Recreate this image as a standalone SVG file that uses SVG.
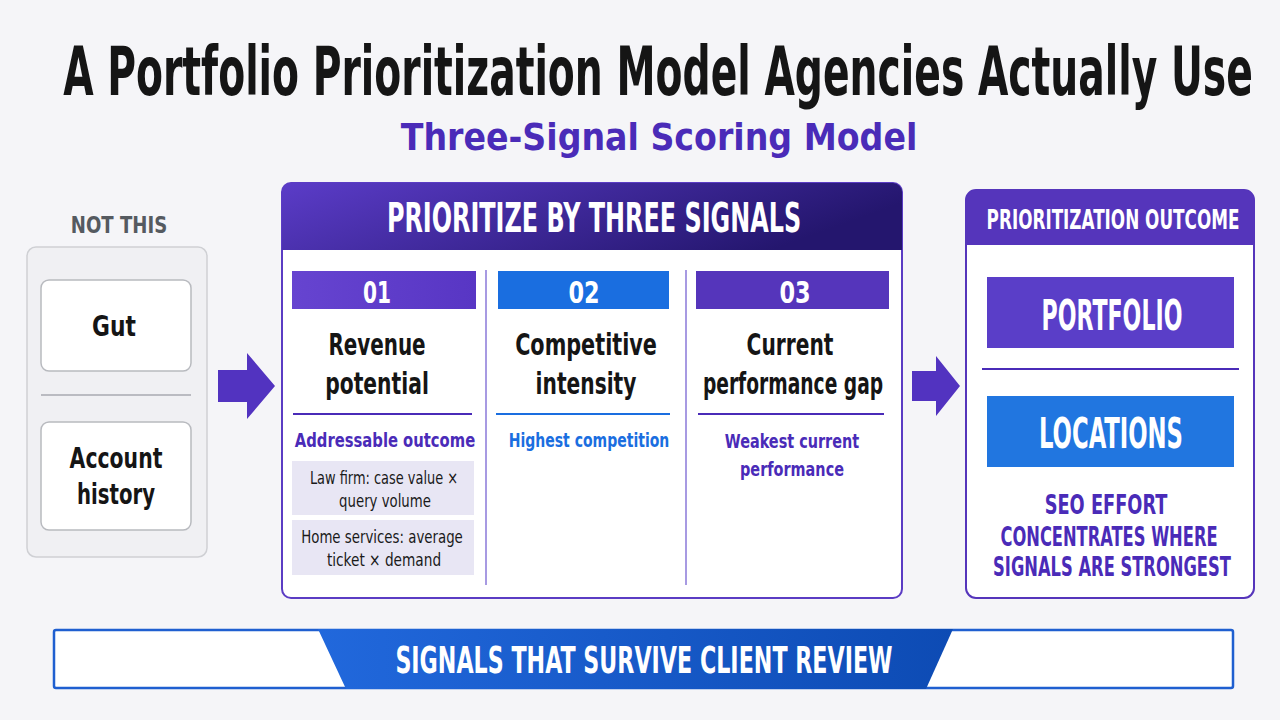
<svg xmlns="http://www.w3.org/2000/svg" width="1280" height="720" viewBox="0 0 1280 720">
<defs>
<linearGradient id="hdr" x1="0" y1="0" x2="1" y2="0.3">
<stop offset="0" stop-color="#5b3cc8"/><stop offset="1" stop-color="#24166e"/>
</linearGradient>
<linearGradient id="ban" x1="0" y1="0" x2="1" y2="0">
<stop offset="0" stop-color="#2168dc"/><stop offset="1" stop-color="#0d4bb4"/>
</linearGradient>
<linearGradient id="num1" x1="0" y1="0" x2="1" y2="0">
<stop offset="0" stop-color="#6644d0"/><stop offset="1" stop-color="#5836c4"/>
</linearGradient>
</defs>
<style>
.c{font-family:"DejaVu Sans Condensed","DejaVu Sans",sans-serif;font-stretch:condensed;font-weight:bold;text-anchor:middle}
.w{fill:#ffffff}
.k{fill:#151515}
.p{fill:#4a2bb8}
.b{fill:#1a6ee0}
.n{font-family:"DejaVu Sans Condensed","DejaVu Sans",sans-serif;font-stretch:condensed;text-anchor:middle;fill:#1a1a1a}
</style>
<rect width="1280" height="720" fill="#f5f5f8"/>
<g id="title">
<text class="c k" transform="translate(658,95) scale(0.64,1)" font-size="68" textLength="1859" lengthAdjust="spacingAndGlyphs">A Portfolio Prioritization Model Agencies Actually Use</text>
<text class="c p" transform="translate(659,150) scale(0.9,1)" font-size="38" textLength="574" lengthAdjust="spacingAndGlyphs">Three-Signal Scoring Model</text>
</g>
<g id="not-this">
<text class="c" transform="translate(119,233) scale(0.79,1)" font-size="23" fill="#555a60" textLength="122" lengthAdjust="spacingAndGlyphs">NOT THIS</text>
<rect x="27" y="247" width="180" height="310" rx="9" fill="#f0f0f3" stroke="#cfd0d4" stroke-width="1.5"/>
<line x1="41" y1="395" x2="191" y2="395" stroke="#a8aab0" stroke-width="1.5"/>
</g>
<g id="gut">
<rect x="41" y="280" width="150" height="91" rx="8" fill="#ffffff" stroke="#b8babf" stroke-width="1.5"/>
<text class="c k" transform="translate(114,336) scale(0.86,1)" font-size="28" textLength="51" lengthAdjust="spacingAndGlyphs">Gut</text>
</g>
<g id="account-history">
<rect x="41" y="422" width="150" height="108" rx="8" fill="#ffffff" stroke="#b8babf" stroke-width="1.5"/>
<text class="c k" transform="translate(116,468) scale(0.78,1)" font-size="29" textLength="119" lengthAdjust="spacingAndGlyphs">Account</text>
<text class="c k" transform="translate(116,504) scale(0.75,1)" font-size="29" textLength="104" lengthAdjust="spacingAndGlyphs">history</text>
</g>
<g id="connectors">
<polygon points="218,370 247,370 247,353 275,386 247,419 247,402 218,402" fill="#5233c0"/>
<polygon points="912,371 936,371 936,356 960,386 936,416 936,401 912,401" fill="#5233c0"/>
</g>
<g id="signals">
<rect x="282" y="183" width="620" height="415" rx="9" fill="#ffffff" stroke="#5b3cc4" stroke-width="2"/>
<path d="M282,250 V192 a9,9 0 0 1 9,-9 H893 a9,9 0 0 1 9,9 V250 Z" fill="url(#hdr)"/>
<text class="c w" transform="translate(594,232) scale(0.59,1)" font-size="40" textLength="702" lengthAdjust="spacingAndGlyphs">PRIORITIZE BY THREE SIGNALS</text>
<line x1="486" y1="270" x2="486" y2="585" stroke="#8a78d8" stroke-width="1.5"/>
<line x1="686" y1="270" x2="686" y2="585" stroke="#8a78d8" stroke-width="1.5"/>
</g>
<g id="signal-01">
<rect x="292" y="271" width="184" height="38" fill="url(#num1)"/>
<text class="c w" transform="translate(377,303) scale(0.72,1)" font-size="31" textLength="39" lengthAdjust="spacingAndGlyphs">01</text>
<text class="c k" transform="translate(377,355) scale(0.71,1)" font-size="31" textLength="137" lengthAdjust="spacingAndGlyphs">Revenue</text>
<text class="c k" transform="translate(377,394) scale(0.73,1)" font-size="31" textLength="142" lengthAdjust="spacingAndGlyphs">potential</text>
<line x1="293" y1="414" x2="472" y2="414" stroke="#4a2bb8" stroke-width="2"/>
<text class="c p" transform="translate(385,447) scale(0.82,1)" font-size="20" textLength="220" lengthAdjust="spacingAndGlyphs">Addressable outcome</text>
<rect x="292" y="461" width="182" height="54" fill="#e8e6f4"/>
<text class="n" transform="translate(384,484) scale(0.76,1)" font-size="17" textLength="195" lengthAdjust="spacingAndGlyphs">Law firm: case value ×</text>
<text class="n" transform="translate(385,507) scale(0.82,1)" font-size="17" textLength="112" lengthAdjust="spacingAndGlyphs">query volume</text>
<rect x="292" y="520" width="182" height="55" fill="#e8e6f4"/>
<text class="n" transform="translate(382,543) scale(0.8,1)" font-size="17" textLength="202" lengthAdjust="spacingAndGlyphs">Home services: average</text>
<text class="n" transform="translate(384,566) scale(0.84,1)" font-size="17" textLength="136" lengthAdjust="spacingAndGlyphs">ticket × demand</text>
</g>
<g id="signal-02">
<rect x="498" y="271" width="171" height="38" fill="#1a6ee0"/>
<text class="c w" transform="translate(584,303) scale(0.8,1)" font-size="31" textLength="39" lengthAdjust="spacingAndGlyphs">02</text>
<text class="c k" transform="translate(586,355) scale(0.75,1)" font-size="31" textLength="189" lengthAdjust="spacingAndGlyphs">Competitive</text>
<text class="c k" transform="translate(586,394) scale(0.72,1)" font-size="31" textLength="140" lengthAdjust="spacingAndGlyphs">intensity</text>
<line x1="496" y1="414" x2="670" y2="414" stroke="#1a6ee0" stroke-width="2"/>
<text class="c b" transform="translate(589,447) scale(0.78,1)" font-size="20" textLength="206" lengthAdjust="spacingAndGlyphs">Highest competition</text>
</g>
<g id="signal-03">
<rect x="696" y="271" width="193" height="38" fill="#5535bb"/>
<text class="c w" transform="translate(795,303) scale(0.8,1)" font-size="31" textLength="39" lengthAdjust="spacingAndGlyphs">03</text>
<text class="c k" transform="translate(790,355) scale(0.73,1)" font-size="31" textLength="119" lengthAdjust="spacingAndGlyphs">Current</text>
<text class="c k" transform="translate(793,394) scale(0.67,1)" font-size="31" textLength="269" lengthAdjust="spacingAndGlyphs">performance gap</text>
<line x1="698" y1="414" x2="884" y2="414" stroke="#4a2bb8" stroke-width="2"/>
<text class="c p" transform="translate(792,448) scale(0.79,1)" font-size="20" textLength="170" lengthAdjust="spacingAndGlyphs">Weakest current</text>
<text class="c p" transform="translate(792,476) scale(0.8,1)" font-size="20" textLength="130" lengthAdjust="spacingAndGlyphs">performance</text>
</g>
<g id="outcome">
<rect x="966" y="190" width="288" height="408" rx="10" fill="#ffffff" stroke="#5535bb" stroke-width="2"/>
<path d="M966,245 V200 a10,10 0 0 1 10,-10 H1244 a10,10 0 0 1 10,10 V245 Z" fill="#5535bb"/>
<text class="c w" transform="translate(1113,229) scale(0.645,1)" font-size="27" textLength="392" lengthAdjust="spacingAndGlyphs">PRIORITIZATION OUTCOME</text>
<line x1="982" y1="369" x2="1239" y2="369" stroke="#4a2bb8" stroke-width="2"/>
<text class="c p" transform="translate(1106,514) scale(0.73,1)" font-size="27" textLength="168" lengthAdjust="spacingAndGlyphs">SEO EFFORT</text>
<text class="c p" transform="translate(1109,546) scale(0.66,1)" font-size="27" textLength="329" lengthAdjust="spacingAndGlyphs">CONCENTRATES WHERE</text>
<text class="c p" transform="translate(1112,576) scale(0.67,1)" font-size="27" textLength="355" lengthAdjust="spacingAndGlyphs">SIGNALS ARE STRONGEST</text>
</g>
<g id="portfolio">
<rect x="987" y="277" width="247" height="71" fill="#5a3ec8"/>
<text class="c w" transform="translate(1112,330) scale(0.58,1)" font-size="42" textLength="243" lengthAdjust="spacingAndGlyphs">PORTFOLIO</text>
</g>
<g id="locations">
<rect x="987" y="396" width="247" height="71" fill="#2176e0"/>
<text class="c w" transform="translate(1111,448) scale(0.59,1)" font-size="42" textLength="244" lengthAdjust="spacingAndGlyphs">LOCATIONS</text>
</g>
<g id="banner">
<rect x="54" y="630" width="1179" height="58" rx="2" fill="#ffffff" stroke="#1f5fd0" stroke-width="2.5"/>
<polygon points="318,629 953,629 926,689 346,689" fill="url(#ban)"/>
<text class="c w" transform="translate(644,673) scale(0.62,1)" font-size="38" textLength="802" lengthAdjust="spacingAndGlyphs">SIGNALS THAT SURVIVE CLIENT REVIEW</text>
</g>
</svg>
